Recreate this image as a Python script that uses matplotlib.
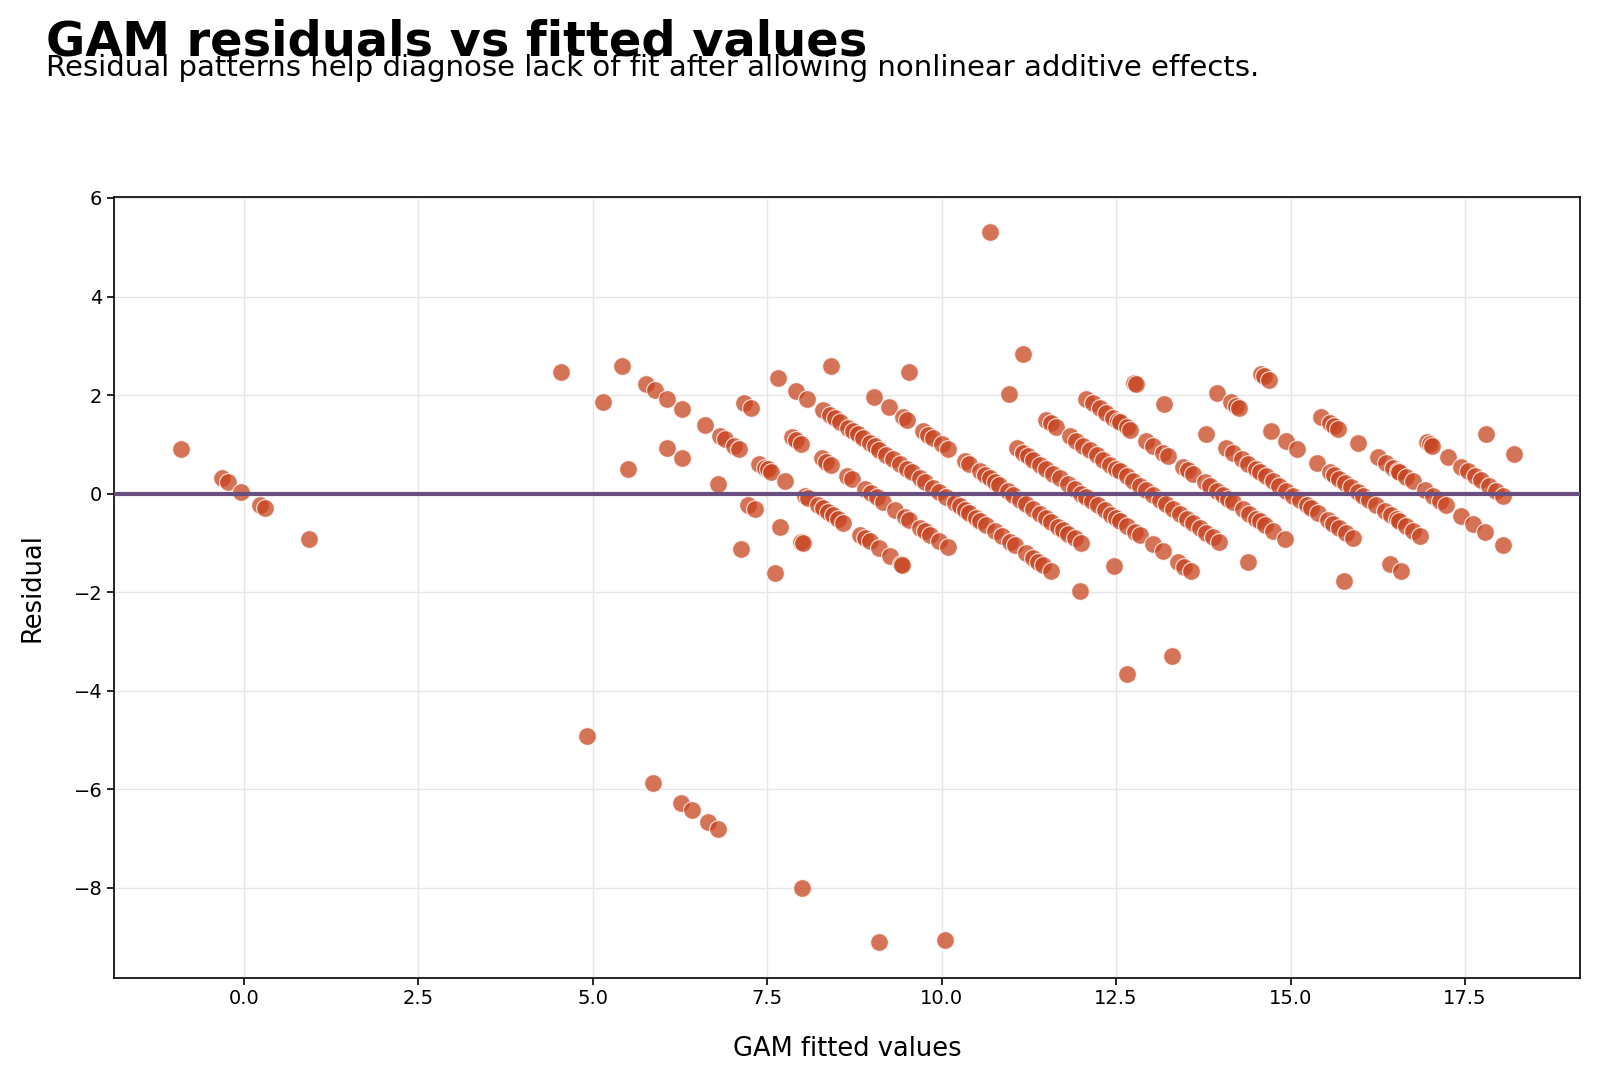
import matplotlib
matplotlib.use("Agg")
import matplotlib.pyplot as plt

# GAM fitted values (x) and residuals (y), grouped by stripe
fitted = [
    # observed 0
    -0.90, -0.31, -0.23, -0.04, 0.23, 0.30, 0.93, 4.92, 5.87, 6.27, 6.42, 6.66, 6.80, 8.00, 9.10,
    # observed 1
    10.05,
    # observed 6
    5.51, 7.13, 7.61,
    # observed 7
    4.54, 5.15, 6.07, 6.28, 6.80, 7.23, 7.32, 7.68, 7.99, 8.01,
    # observed 8
    5.42, 5.77, 5.89, 6.07, 6.28, 6.61, 6.83, 6.89, 7.03, 7.10, 7.39, 7.47, 7.51, 7.56, 7.75,
    8.04, 8.09, 8.23, 8.30, 8.37, 8.44, 8.52, 8.59, 8.83, 8.90, 8.97, 9.11, 9.26, 9.42, 9.44,
    # observed 9
    7.17, 7.27, 7.85, 7.92, 7.99, 8.28, 8.35, 8.41, 8.64, 8.71, 8.90, 8.99, 9.07, 9.16, 9.33,
    9.47, 9.54, 9.69, 9.76, 9.83, 9.97, 10.09, 12.66,
    # observed 10
    7.65, 7.92, 8.07, 8.30, 8.40, 8.47, 8.54, 8.66, 8.73, 8.80, 8.87, 8.97, 9.04, 9.11, 9.21,
    9.30, 9.40, 9.50, 9.57, 9.69, 9.76, 9.88, 9.97, 10.07, 10.19, 10.26, 10.33, 10.40, 10.50,
    10.55, 10.64, 10.76, 10.86, 10.98, 11.05, 11.21, 11.31, 11.38, 11.45, 11.57, 11.98, 13.30,
    # observed 11
    8.42, 9.03, 9.25, 9.45, 9.50, 9.73, 9.81, 9.88, 10.00, 10.09, 10.33, 10.40, 10.55, 10.62,
    10.69, 10.76, 10.83, 10.95, 11.02, 11.12, 11.21, 11.31, 11.41, 11.50, 11.57, 11.67, 11.74,
    11.81, 11.91, 12.00, 12.47,
    # observed 12
    9.53, 11.08, 11.17, 11.24, 11.31, 11.41, 11.50, 11.60, 11.69, 11.81, 11.91, 12.00, 12.07,
    12.15, 12.24, 12.34, 12.43, 12.50, 12.55, 12.65, 12.77, 12.84, 13.03, 13.17, 13.39, 13.48, 13.58,
    # observed 13
    10.97, 11.50, 11.57, 11.64, 11.84, 11.93, 12.03, 12.12, 12.22, 12.31, 12.41, 12.50, 12.55,
    12.65, 12.74, 12.84, 12.93, 13.03, 13.13, 13.22, 13.32, 13.41, 13.51, 13.60, 13.70, 13.79,
    13.89, 13.98, 14.39,
    # observed 14
    11.17, 12.07, 12.17, 12.27, 12.36, 12.46, 12.53, 12.55, 12.65, 12.70, 12.93, 13.03, 13.17,
    13.24, 13.46, 13.53, 13.60, 13.77, 13.84, 13.94, 14.03, 14.10, 14.18, 14.32, 14.41, 14.51,
    14.56, 14.63, 14.75, 14.92, 15.77,
    # observed 15
    12.76, 12.78, 13.19, 13.79, 14.08, 14.18, 14.30, 14.39, 14.51, 14.56, 14.65, 14.75, 14.84,
    14.94, 15.04, 15.13, 15.23, 15.30, 15.39, 15.54, 15.61, 15.70, 15.80, 15.90, 16.42, 16.58,
    # observed 16
    10.70, 13.95, 14.15, 14.22, 14.26, 14.72, 14.94, 15.10, 15.38, 15.56, 15.63, 15.70, 15.78,
    15.87, 15.97, 16.04, 16.13, 16.23, 16.35, 16.44, 16.52, 16.56, 16.66, 16.76, 16.85,
    # observed 17
    14.58, 14.62, 14.69, 15.44, 15.56, 15.63, 15.68, 15.97, 16.25, 16.37, 16.47, 16.54, 16.56,
    16.66, 16.75, 16.92, 17.04, 17.14, 17.23, 17.45, 17.61, 17.78, 18.04,
    # observed 18
    16.95, 17.00, 17.03, 17.26, 17.45, 17.54, 17.64, 17.73, 17.85, 17.95, 18.04,
    # observed 19
    17.80, 18.20,
]

residual = [
    # observed 0
    0.90, 0.31, 0.23, 0.04, -0.23, -0.30, -0.93, -4.92, -5.87, -6.27, -6.42, -6.66, -6.80, -8.00, -9.10,
    # observed 1
    -9.05,
    # observed 6
    0.49, -1.13, -1.61,
    # observed 7
    2.46, 1.85, 0.93, 0.72, 0.20, -0.23, -0.32, -0.68, -0.99, -1.01,
    # observed 8
    2.58, 2.23, 2.11, 1.93, 1.72, 1.39, 1.17, 1.11, 0.97, 0.90, 0.61, 0.53, 0.49, 0.44, 0.25,
    -0.04, -0.09, -0.23, -0.30, -0.37, -0.44, -0.52, -0.59, -0.83, -0.90, -0.97, -1.11, -1.26, -1.42, -1.44,
    # observed 9
    1.83, 1.73, 1.15, 1.08, 1.01, 0.72, 0.65, 0.59, 0.36, 0.29, 0.10, 0.01, -0.07, -0.16, -0.33,
    -0.47, -0.54, -0.69, -0.76, -0.83, -0.97, -1.09, -3.66,
    # observed 10
    2.35, 2.08, 1.93, 1.70, 1.60, 1.53, 1.46, 1.34, 1.27, 1.20, 1.13, 1.03, 0.96, 0.89, 0.79,
    0.70, 0.60, 0.50, 0.43, 0.31, 0.24, 0.12, 0.03, -0.07, -0.19, -0.26, -0.33, -0.40, -0.50,
    -0.55, -0.64, -0.76, -0.86, -0.98, -1.05, -1.21, -1.31, -1.38, -1.45, -1.57, -1.98, -3.30,
    # observed 11
    2.58, 1.97, 1.75, 1.55, 1.50, 1.27, 1.19, 1.12, 1.00, 0.91, 0.67, 0.60, 0.45, 0.38,
    0.31, 0.24, 0.17, 0.05, -0.02, -0.12, -0.21, -0.31, -0.41, -0.50, -0.57, -0.67, -0.74,
    -0.81, -0.91, -1.00, -1.47,
    # observed 12
    2.47, 0.92, 0.83, 0.76, 0.69, 0.59, 0.50, 0.40, 0.31, 0.19, 0.09, 0.00, -0.07,
    -0.15, -0.24, -0.34, -0.43, -0.50, -0.55, -0.65, -0.77, -0.84, -1.03, -1.17, -1.39, -1.48, -1.58,
    # observed 13
    2.03, 1.50, 1.43, 1.36, 1.16, 1.07, 0.97, 0.88, 0.78, 0.69, 0.59, 0.50, 0.45,
    0.35, 0.26, 0.16, 0.07, -0.03, -0.13, -0.22, -0.32, -0.41, -0.51, -0.60, -0.70, -0.79,
    -0.89, -0.98, -1.39,
    # observed 14
    2.83, 1.93, 1.83, 1.73, 1.64, 1.54, 1.47, 1.45, 1.35, 1.30, 1.07, 0.97, 0.83,
    0.76, 0.54, 0.47, 0.40, 0.23, 0.16, 0.06, -0.03, -0.10, -0.18, -0.32, -0.41, -0.51,
    -0.56, -0.63, -0.75, -0.92, -1.77,
    # observed 15
    2.24, 2.22, 1.81, 1.21, 0.92, 0.82, 0.70, 0.61, 0.49, 0.44, 0.35, 0.25, 0.16,
    0.06, -0.04, -0.13, -0.23, -0.30, -0.39, -0.54, -0.61, -0.70, -0.80, -0.90, -1.42, -1.58,
    # observed 16
    5.30, 2.05, 1.85, 1.78, 1.74, 1.28, 1.06, 0.90, 0.62, 0.44, 0.37, 0.30, 0.22,
    0.13, 0.03, -0.04, -0.13, -0.23, -0.35, -0.44, -0.52, -0.56, -0.66, -0.76, -0.85,
    # observed 17
    2.42, 2.38, 2.31, 1.56, 1.44, 1.37, 1.32, 1.03, 0.75, 0.63, 0.53, 0.46, 0.44,
    0.34, 0.25, 0.08, -0.04, -0.14, -0.23, -0.45, -0.61, -0.78, -1.04,
    # observed 18
    1.05, 1.00, 0.97, 0.74, 0.55, 0.46, 0.36, 0.27, 0.15, 0.05, -0.04,
    # observed 19
    1.20, 0.80,
]

title = "GAM residuals vs fitted values"
subtitle = "Residual patterns help diagnose lack of fit after allowing nonlinear additive effects."
x_label = "GAM fitted values"
y_label = "Residual"

plt.rcParams["font.family"] = ["DejaVu Sans"]

fig = plt.figure(figsize=(16, 10.81), dpi=100)
ax = fig.add_axes([0.0714, 0.0957, 0.9164, 0.7221])

ax.scatter(fitted, residual, s=165, color="#C8441F", alpha=0.75,
           edgecolors="white", linewidths=0.9, zorder=2)
ax.axhline(0, color="#6B4E80", linewidth=3.0, zorder=3)

ax.grid(True, color="#e6e6e6", linewidth=1.0, zorder=0)
ax.set_axisbelow(True)
for sp in ax.spines.values():
    sp.set_linewidth(1.2)
    sp.set_color("black")
ax.tick_params(labelsize=14, width=1.2, length=5)

ax.set_xlabel(x_label, fontsize=18.5, labelpad=20)
ax.set_ylabel(y_label, fontsize=18.5, labelpad=20)

fig.text(0.029, 0.949, title, fontsize=34.5, fontweight="bold", ha="left", va="baseline")
fig.text(0.029, 0.930, subtitle, fontsize=21, ha="left", va="baseline")

fig.savefig("out.png", dpi=100)
